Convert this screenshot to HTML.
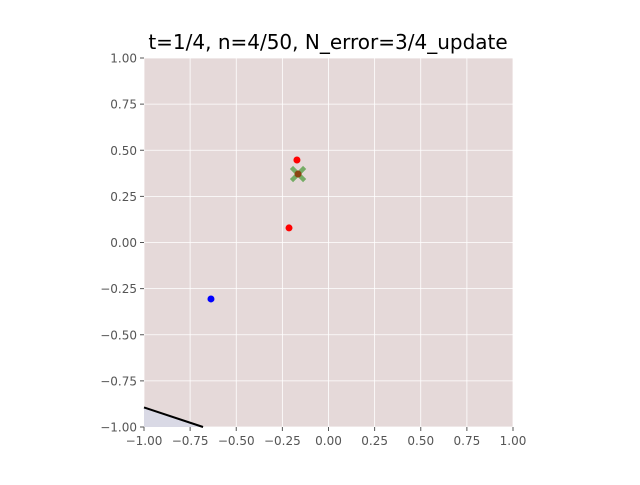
<!DOCTYPE html>
<html><head><meta charset="utf-8"><style>
body{margin:0;background:#fff}
svg text{font-family:"DejaVu Sans","Liberation Sans",sans-serif}
</style></head><body>
<svg id="chart" width="640" height="480" xmlns="http://www.w3.org/2000/svg">
<rect x="0" y="0" width="640" height="480" fill="#fff"/>
<text x="328" y="49" font-size="20" text-anchor="middle" fill="#000">t=1/4, n=4/50, N_error=3/4_update</text>
<g id="plot"></g>
</svg>
<script>
const ticks=[-1,-0.75,-0.5,-0.25,0,0.25,0.5,0.75,1];
const tickLabels=["\u22121.00","\u22120.75","\u22120.50","\u22120.25","0.00","0.25","0.50","0.75","1.00"];
const redX=[-0.171,-0.214];
const redY=[0.447,0.079];
const blueX=[-0.637];
const blueY=[-0.306];
const centerX=[-0.165];
const centerY=[0.371];
const lineX=[-1,-0.68];
const lineY=[-0.894,-1];
const L=144,R=513,T=58,B=427;
const sx=v=>L+(v+1)/2*(R-L), sy=v=>B-(v+1)/2*(B-T);
const g=document.getElementById('plot');
const NS='http://www.w3.org/2000/svg';
function mk(tag,attrs,parent){const e=document.createElementNS(NS,tag);for(const k in attrs)e.setAttribute(k,attrs[k]);(parent||g).appendChild(e);return e;}
let e=mk('rect',{x:L,y:T,width:R-L,height:B-T,fill:'#e5d9d9'});


ticks.forEach((t,i)=>{
 e=mk('line',{x1:sx(t),x2:sx(t),y1:T,y2:B,stroke:'#fff','stroke-width':0.8});
 
 
 e=mk('line',{x1:L,x2:R,y1:sy(t),y2:sy(t),stroke:'#fff','stroke-width':0.8});
 
 
 e=mk('line',{x1:sx(t),x2:sx(t),y1:B,y2:B+4,stroke:'#555'});
 
 
 e=mk('line',{x1:L-4,x2:L,y1:sy(t),y2:sy(t),stroke:'#555'});
 
 
 e=mk('text',{x:sx(t),y:B+18,'font-size':12,'text-anchor':'middle',fill:'#555'});e.textContent=tickLabels[i];
 
 
 e=mk('text',{x:L-7,y:sy(t)+4.5,'font-size':12,'text-anchor':'end',fill:'#555'});e.textContent=tickLabels[i];
 
 
});
e=mk('polygon',{points:`${sx(lineX[0])},${sy(lineY[0])} ${sx(lineX[1])},${sy(lineY[1])} ${sx(-1)},${sy(-1)}`,fill:'#d9d9e5'});


e=mk('line',{x1:sx(lineX[0]),y1:sy(lineY[0]),x2:sx(lineX[1]),y2:sy(lineY[1]),stroke:'#000','stroke-width':2});


redX.forEach((x,i)=>{e=mk('circle',{cx:sx(x),cy:sy(redY[i]),r:3.5,fill:'#ff0000'});
 
 });
blueX.forEach((x,i)=>{e=mk('circle',{cx:sx(x),cy:sy(blueY[i]),r:3.5,fill:'#0000ff'});
 
 });
centerX.forEach((x,i)=>{const cx=sx(x),cy=sy(centerY[i]);
 e=mk('path',{d:`M${cx-5},${cy-5}L${cx+5},${cy+5}M${cx-5},${cy+5}L${cx+5},${cy-5}`,stroke:'#6aa85a','stroke-width':4.5,'stroke-linecap':'square',opacity:0.9});
 
 
 e=mk('circle',{cx:cx,cy:cy,r:3.5,fill:'#8b4513'});
 
 });
</script>
</body></html>
